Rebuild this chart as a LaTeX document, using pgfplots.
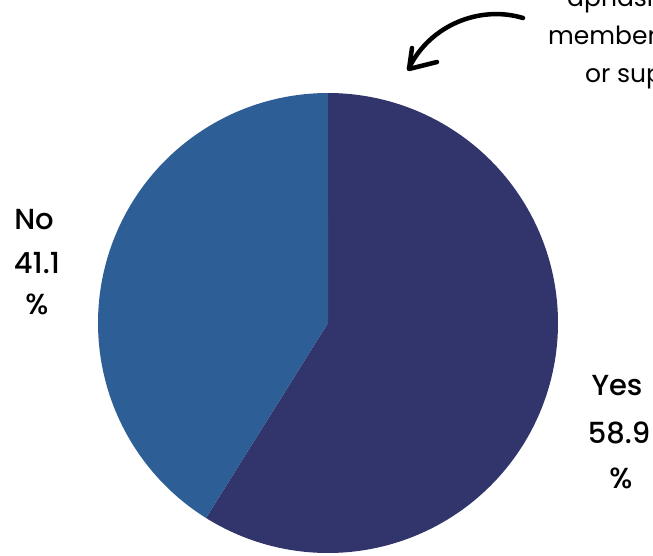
\documentclass[border=0pt]{standalone}
\usepackage{pgfplots}
\pgfplotsset{compat=1.18}
\usepackage{fontspec}
\setmainfont{Poppins}
\newfontfamily\popmed{Poppins Medium}
\definecolor{yescol}{RGB}{50,53,107}
\definecolor{nocol}{RGB}{46,94,150}
\tikzset{
  lab/.style={anchor=base, inner sep=0pt, font=\popmed\fontsize{29bp}{34bp}\selectfont},
  toptext/.style={anchor=base west, inner sep=0pt, font=\fontsize{25bp}{28bp}\selectfont}}
% pie data (percent)
\def\yesval{58.9}
\def\noval{41.1}
\pgfmathsetmacro{\aA}{90}
\pgfmathsetmacro{\aB}{90-3.6*\yesval}
\pgfmathsetmacro{\aC}{\aB-3.6*\noval}
\begin{document}
\begin{tikzpicture}
\begin{axis}[scale only axis, width=653bp, height=556bp,
  xmin=0, xmax=653, ymin=0, ymax=556, y dir=reverse, hide axis, clip=false]
\addplot[draw=none, fill=yescol, domain=\aA:\aB, samples=241, variable=\t]
  ({328+230*cos(\t)},{323-230*sin(\t)}) -- (axis cs:328,323) -- cycle;
\addplot[draw=none, fill=nocol, domain=\aB:\aC, samples=181, variable=\t]
  ({328+230*cos(\t)},{323-230*sin(\t)}) -- (axis cs:328,323) -- cycle;
% labels
\node[lab] at (axis cs:34,229) {No};
\node[lab] at (axis cs:37,273) {41.1};
\node[lab] at (axis cs:37,314) {\%};
\node[lab] at (axis cs:617,395) {Yes};
\node[lab] at (axis cs:619,443) {58.9};
\node[lab] at (axis cs:621,488) {\%};
\node[toptext] at (axis cs:567,7) {aphasia};
\node[toptext] at (axis cs:548,45) {members};
\node[toptext] at (axis cs:585,83) {or support};
% arrow
\draw[line width=4.5bp, line cap=round, line join=round]
  (axis cs:523,18) .. controls (axis cs:480,5) and (axis cs:430,25) .. (axis cs:409,68);
\draw[line width=4.5bp, line cap=round, line join=round]
  (axis cs:412,48) -- (axis cs:409,69) -- (axis cs:437,62);
\end{axis}
\pgfresetboundingbox
\path (current axis.south west) rectangle (current axis.north east);
\end{tikzpicture}
\end{document}
